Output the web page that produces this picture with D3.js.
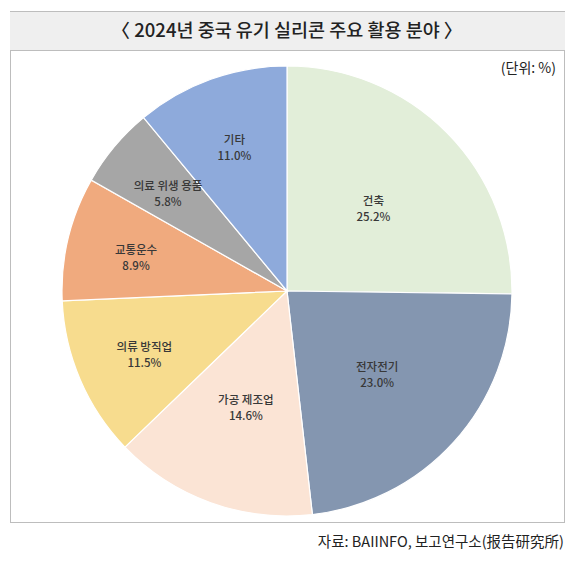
<!DOCTYPE html>
<html>
<head>
    <meta charset="utf-8">
    <style>
        body { margin: 0; background: #fff; }
        text { font-family: "Noto Sans CJK KR", "Noto Sans", sans-serif; }
        text.title { font-size: 18.5px; font-weight: 500; fill: #222; }
        text.unit { font-size: 14px; fill: #222; }
        text.source { font-size: 14.5px; fill: #222; }
        text.label { font-size: 11.5px; font-weight: 500; fill: #383838; }
        path.slice { stroke: #fff; stroke-width: 1.2px; }
    </style>
</head>
<body>
<div id="chart"></div>
<script src="https://cdn.jsdelivr.net/npm/d3@7/dist/d3.min.js"></script>
<script>

    var categories = ["건축", "전자전기", "가공 제조업", "의류 방직업", "교통운수", "의료 위생 용품", "기타"];
    var shares = [25.2, 23.0, 14.6, 11.5, 8.9, 5.8, 11.0];
    var colors = ["#e2eed9", "#8496b0", "#fbe4d5", "#f7dc8e", "#f0aa7e", "#a6a6a6", "#8eaadb"];

    var titleText = "〈 2024년 중국 유기 실리콘 주요 활용 분야 〉";
    var unitText = "(단위: %)";
    var sourceText = "자료: BAIINFO, 보고연구소(报告研究所)";

    var width = 574;
    var height = 561;
    var cx = 287, cy = 291, radius = 225;

    var svg = d3.select("#chart").append("svg")
        .attr("width", width)
        .attr("height", height);

    // title band and frame
    svg.append("rect")
        .attr("x", 10).attr("y", 11)
        .attr("width", 555).attr("height", 39)
        .attr("fill", "#efefef");
    svg.append("line")
        .attr("x1", 10).attr("x2", 565).attr("y1", 11.5).attr("y2", 11.5)
        .attr("stroke", "#bdbdbd");
    svg.append("rect")
        .attr("x", 10.5).attr("y", 50.5)
        .attr("width", 554).attr("height", 472)
        .attr("fill", "none")
        .attr("stroke", "#bdbdbd");

    svg.append("text")
        .attr("class", "title")
        .attr("x", 287).attr("y", 37)
        .attr("text-anchor", "middle")
        .text(titleText);

    svg.append("text")
        .attr("class", "unit")
        .attr("x", 556).attr("y", 73)
        .attr("text-anchor", "end")
        .text(unitText);

    svg.append("text")
        .attr("class", "source")
        .attr("x", 564).attr("y", 547)
        .attr("text-anchor", "end")
        .text(sourceText);

    var data = categories.map(function (c, i) {
        return {name: c, value: shares[i], color: colors[i]};
    });

    var pie = d3.pie()
        .sort(null)
        .value(function (d) { return d.value; });

    var arc = d3.arc().innerRadius(0).outerRadius(radius);

    var g = svg.append("g").attr("transform", "translate(" + cx + "," + cy + ")");

    var arcs = pie(data);

    g.selectAll("path.slice")
        .data(arcs)
        .enter()
        .append("path")
        .attr("class", "slice")
        .attr("d", arc)
        .attr("fill", function (d) { return d.data.color; });

    // bigger slices keep their label closer to the centre
    function labelPos(d) {
        var a = (d.startAngle + d.endAngle) / 2;
        var r = radius * (d.data.value > 12 ? 0.54 : 0.69);
        return [Math.sin(a) * r, -Math.cos(a) * r];
    }

    var labels = g.selectAll("text.label")
        .data(arcs)
        .enter()
        .append("text")
        .attr("class", "label")
        .attr("text-anchor", "middle")
        .attr("transform", function (d) {
            var p = labelPos(d);
            return "translate(" + p[0] + "," + p[1] + ")";
        });

    labels.append("tspan")
        .attr("x", 0).attr("y", -1)
        .text(function (d) { return d.data.name; });
    labels.append("tspan")
        .attr("x", 0).attr("y", 15)
        .text(function (d) { return d.data.value.toFixed(1) + "%"; });

</script>
</body>
</html>
